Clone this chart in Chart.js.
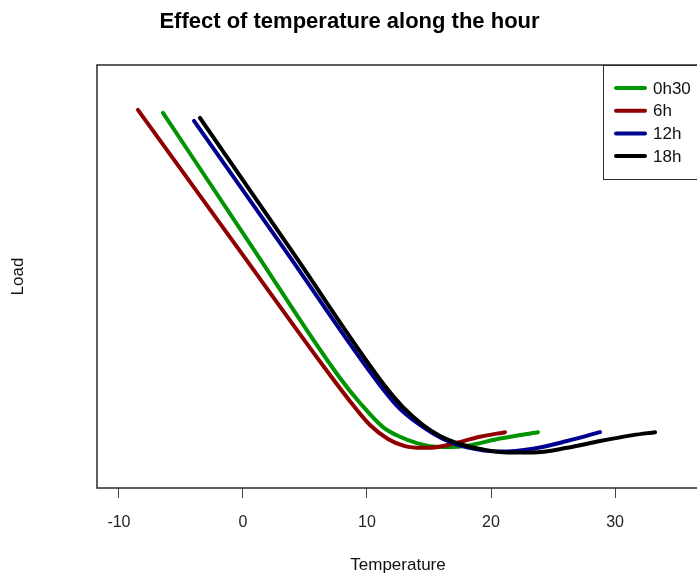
<!DOCTYPE html>
<html>
<head>
<meta charset="utf-8">
<title>Effect of temperature along the hour</title>
<script src="https://cdn.jsdelivr.net/npm/chart.js@4.4.1/dist/chart.umd.min.js"></script>
<style>
  html, body { margin: 0; padding: 0; background: #fff; overflow: hidden; }
  #wrap { width: 697px; height: 574px; overflow: hidden; }
  canvas { display: block; }
</style>
</head>
<body>
<div id="wrap"><canvas id="chart" width="796" height="574"></canvas></div>
<script>
// Values. Load has no printed scale, so it is
// kept in arbitrary 0-100 units.
const seriesLabels = ["0h30", "6h", "12h", "18h"];
const seriesColors = ["#009400", "#910000", "#00008f", "#000000"];

const temp0h30 = [-6.45, 0.69, 7.82, 9.44, 11.29, 12.66, 14.03, 15.32, 16.69, 18.06, 20.73, 23.79];
const load0h30 = [88.7, 57.2, 26.0, 20.1, 14.4, 12.1, 10.6, 9.8, 9.7, 10.0, 11.7, 13.2];

const temp6h = [-8.47, -0.73, 7.02, 8.79, 10.24, 11.69, 13.06, 14.44, 15.73, 17.10, 19.11, 21.13];
const load6h = [89.4, 58.0, 26.7, 19.9, 14.9, 11.6, 9.9, 9.5, 9.7, 10.6, 12.1, 13.2];

const temp12h = [-3.95, 3.55, 11.05, 12.66, 14.27, 16.13, 18.06, 20.73, 23.39, 26.13, 28.79];
const load12h = [86.8, 55.6, 24.3, 18.7, 14.9, 11.6, 9.6, 8.6, 9.3, 11.1, 13.2];

const temp18h = [-3.47, 3.99, 11.45, 12.90, 14.52, 15.89, 17.50, 19.35, 21.29, 23.39, 26.13, 28.79, 31.45, 33.23];
const load18h = [87.5, 55.8, 24.1, 19.1, 14.9, 12.3, 10.4, 9.1, 8.4, 8.4, 9.5, 11.1, 12.5, 13.2];

const xTickValues = [-10, 0, 10, 20, 30];

const FONT = "'Liberation Sans', Arial, Helvetica, sans-serif";

function toPoints(xs, ys) {
  return xs.map((x, i) => ({ x, y: ys[i] }));
}

const seriesData = [
  toPoints(temp0h30, load0h30),
  toPoints(temp6h, load6h),
  toPoints(temp12h, load12h),
  toPoints(temp18h, load18h),
];

// R draws the series one after the other, so the last one ends up on top
const datasets = seriesData.map((data, i) => ({
  label: seriesLabels[i],
  data,
  borderColor: seriesColors[i],
  borderWidth: 4,
  borderCapStyle: "round",
  borderJoinStyle: "round",
  pointRadius: 0,
  fill: false,
  cubicInterpolationMode: "monotone",
  order: seriesData.length - i,
}));

// full box around the plot region, like R's box()
const plotFrame = {
  id: "plotFrame",
  afterDraw(chart) {
    const { ctx, chartArea: a } = chart;
    ctx.save();
    ctx.strokeStyle = "#2a2a2a";
    ctx.lineWidth = 1.5;
    ctx.strokeRect(a.left, a.top, a.right - a.left, a.bottom - a.top);
    ctx.restore();
  },
};

// boxed legend in the top right corner of the plot
const boxLegend = {
  id: "boxLegend",
  afterDraw(chart) {
    const { ctx, chartArea: a } = chart;
    const x0 = a.right - 96;
    const y0 = a.top;
    const rowH = 22.7;
    ctx.save();
    ctx.fillStyle = "#fff";
    ctx.fillRect(x0, y0, 112, 114);
    ctx.strokeStyle = "#2a2a2a";
    ctx.lineWidth = 1;
    ctx.strokeRect(x0 + 0.5, y0 + 0.5, 112, 114);
    ctx.font = "17px " + FONT;
    ctx.textBaseline = "middle";
    chart.data.datasets.forEach((ds, i) => {
      const y = y0 + 23 + i * rowH;
      ctx.strokeStyle = ds.borderColor;
      ctx.lineWidth = 4;
      ctx.lineCap = "round";
      ctx.beginPath();
      ctx.moveTo(x0 + 13, y);
      ctx.lineTo(x0 + 42, y);
      ctx.stroke();
      ctx.fillStyle = "#111";
      ctx.fillText(ds.label, x0 + 50, y + 1);
    });
    ctx.restore();
  },
};

new Chart(document.getElementById("chart"), {
  type: "line",
  data: { datasets },
  plugins: [plotFrame, boxLegend],
  options: {
    responsive: false,
    animation: false,
    layout: { padding: { left: 0, right: 97, top: 0, bottom: 0 } },
    plugins: {
      legend: { display: false },
      tooltip: { enabled: false },
      title: {
        display: true,
        text: "Effect of temperature along the hour",
        color: "#000",
        font: { family: FONT, size: 22, weight: "bold" },
        padding: { top: 9, bottom: 29.6 },
      },
    },
    scales: {
      x: {
        type: "linear",
        min: -11.77,
        max: 36.77,
        afterBuildTicks: (s) => { s.ticks = xTickValues.map((v) => ({ value: v })); },
        afterFit: (s) => { s.height = 86; },
        grid: { drawOnChartArea: false, drawTicks: true, tickLength: 10, color: "#444", lineWidth: 1 },
        border: { display: false },
        ticks: { color: "#222", font: { family: FONT, size: 16 }, padding: 15, maxRotation: 0 },
        title: {
          display: true,
          text: "Temperature",
          color: "#111",
          font: { family: FONT, size: 17, lineHeight: 1.0 },
          padding: { top: 0, bottom: 0 },
        },
      },
      y: {
        type: "linear",
        min: 0,
        max: 100,
        afterFit: (s) => { s.width = 97; },
        grid: { display: false },
        border: { display: false },
        ticks: { display: false },
        title: {
          display: true,
          text: "Load",
          color: "#111",
          font: { family: FONT, size: 17 },
          padding: { top: 8, bottom: 0 },
        },
      },
    },
  },
});
</script>
</body>
</html>
